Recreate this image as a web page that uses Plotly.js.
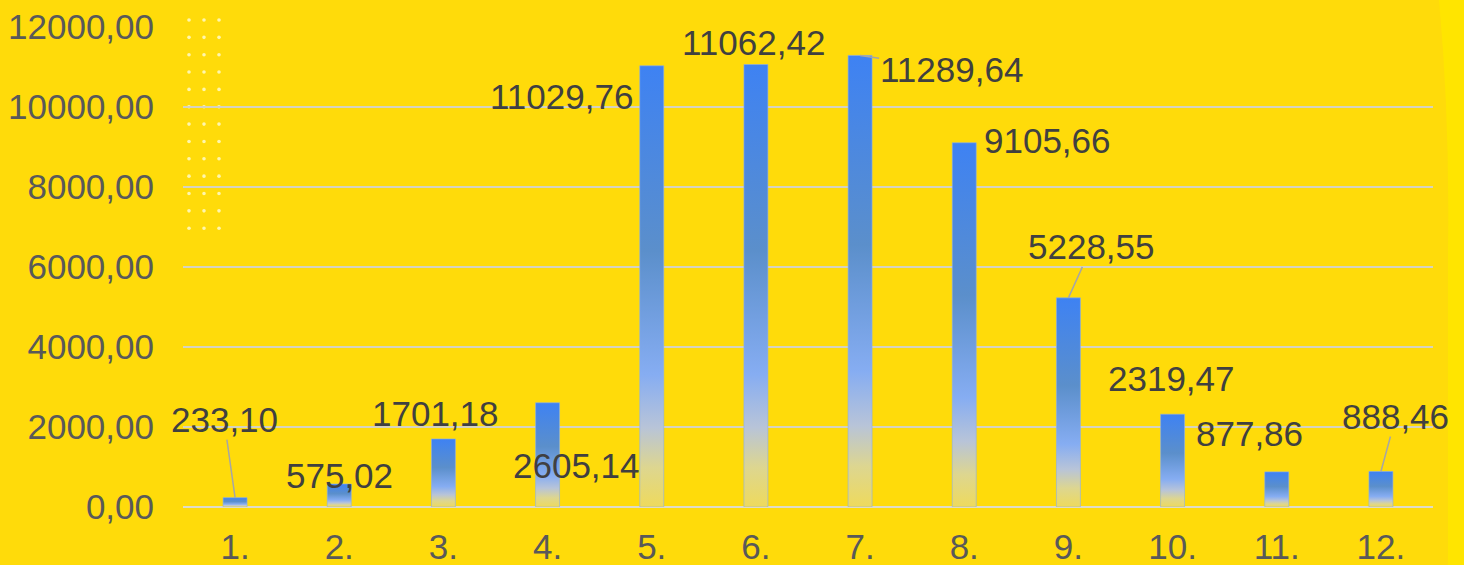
<!DOCTYPE html>
<html>
<head>
<meta charset="utf-8">
<script src="https://cdn.plot.ly/plotly-3.0.1.min.js"></script>
<style>
  html, body { margin: 0; padding: 0; background: #FFDB0A; }
  #chart { width: 1464px; height: 565px; }
</style>
</head>
<body>
<div id="chart"></div>
<script>
// ---- data ----
const categories = ["1.", "2.", "3.", "4.", "5.", "6.", "7.", "8.", "9.", "10.", "11.", "12."];
const values = [233.10, 575.02, 1701.18, 2605.14, 11029.76, 11062.42, 11289.64, 9105.66, 5228.55, 2319.47, 877.86, 888.46];
const yTicks = [0, 2000, 4000, 6000, 8000, 10000, 12000];

// label offsets (pixels) and whether a leader line is drawn
const labelDx = [-11, 0, -8, 29, -90, -2, 91, 83, 23, -1, -27, 15];
const labelDy = [-78, -9, -25, 63, 31, -22, 14, -2, -51, -36, -38, -55];
const leader = [true, false, false, false, false, false, true, false, true, false, false, true];

// ---- layout geometry ----
const W = 1464, H = 565;
const mL = 183, mR = 31, mT = 27, mB = 58;
const pw = W - mL - mR, ph = H - mT - mB;
const px = x => (x - mL) / pw;
const py = y => (H - mB - y) / ph;

function fmt(v) { return v.toFixed(2).replace('.', ','); }

const annotations = values.map((v, i) => ({
  x: i, y: v, xref: 'x', yref: 'y',
  text: fmt(v),
  showarrow: true,
  ax: labelDx[i], ay: labelDy[i],
  arrowhead: 0, arrowwidth: 1.5, standoff: 0, startstandoff: 0,
  arrowcolor: leader[i] ? '#A6A6A6' : 'rgba(0,0,0,0)',
  font: { family: 'Liberation Sans, Arial, sans-serif', size: 35, color: '#404040' },
  borderpad: 0
}));

// decorative dots (top-left)
const shapes = [];
for (let r = 0; r < 13; r++) {
  for (let c = 0; c < 3; c++) {
    const cx = 189 + c * 15, cy = 20 + r * 17.35, rad = 1.8;
    shapes.push({
      type: 'circle', xref: 'paper', yref: 'paper', layer: 'below',
      x0: px(cx - rad), x1: px(cx + rad), y0: py(cy + rad), y1: py(cy - rad),
      fillcolor: 'rgba(255,255,230,0.75)', line: { width: 0 }
    });
  }
}
// lighter right strip
shapes.push({
  type: 'path', xref: 'paper', yref: 'paper', layer: 'below',
  path: `M ${px(1439)},${py(0)} Q ${px(1450)},${py(120)} ${px(1448)},${py(250)} L ${px(1448)},${py(565)} L ${px(1464)},${py(565)} L ${px(1464)},${py(0)} Z`,
  fillcolor: '#FFE500', line: { width: 0 }
});

const trace = {
  type: 'bar',
  x: categories,
  y: values,
  marker: { color: '#4A86E8', line: { width: 1, color: 'rgba(140,175,235,0.6)' } },
  hoverinfo: 'skip'
};

const layout = {
  width: W, height: H,
  margin: { l: mL, r: mR, t: mT, b: mB, pad: 0 },
  paper_bgcolor: '#FFDB0A',
  plot_bgcolor: 'rgba(0,0,0,0)',
  separators: ', ',
  bargap: 0.77,
  showlegend: false,
  font: { family: 'Liberation Sans, Arial, sans-serif', size: 34, color: '#595959' },
  xaxis: {
    type: 'category',
    range: [-0.5, categories.length - 0.5],
    showgrid: false, zeroline: false, showline: false,
    ticks: '', ticklabelstandoff: 16,
    tickfont: { size: 35, color: '#595959' }
  },
  yaxis: {
    range: [0, 12000],
    tickvals: yTicks,
    tickformat: '.2f',
    showgrid: true, gridcolor: '#D5D2C0', gridwidth: 2,
    zeroline: true, zerolinecolor: '#DEDBC8', zerolinewidth: 2,
    showline: false, ticks: '',
    ticklabelstandoff: 28,
    tickfont: { size: 35, color: '#595959' }
  },
  annotations: annotations,
  shapes: shapes
};

Plotly.newPlot('chart', [trace], layout, { displayModeBar: false, staticPlot: true }).then(gd => {
  const svg = gd.querySelector('svg.main-svg');
  const ns = 'http://www.w3.org/2000/svg';
  let defs = svg.querySelector('defs');
  if (!defs) { defs = document.createElementNS(ns, 'defs'); svg.insertBefore(defs, svg.firstChild); }
  const lg = document.createElementNS(ns, 'linearGradient');
  lg.setAttribute('id', 'barGrad');
  lg.setAttribute('x1', '0'); lg.setAttribute('y1', '0');
  lg.setAttribute('x2', '0'); lg.setAttribute('y2', '1');
  [[0, '#3E82F3'], [0.42, '#5B8FCB'], [0.70, '#86ADF2'], [0.82, '#B8C4D8'], [0.91, '#DDD690'], [1, '#EEDA5C']].forEach(([o, c]) => {
    const s = document.createElementNS(ns, 'stop');
    s.setAttribute('offset', o); s.setAttribute('stop-color', c);
    lg.appendChild(s);
  });
  defs.appendChild(lg);
  gd.querySelectorAll('.barlayer .point path').forEach(p => { p.style.fill = 'url(#barGrad)'; });
});
</script>
</body>
</html>
